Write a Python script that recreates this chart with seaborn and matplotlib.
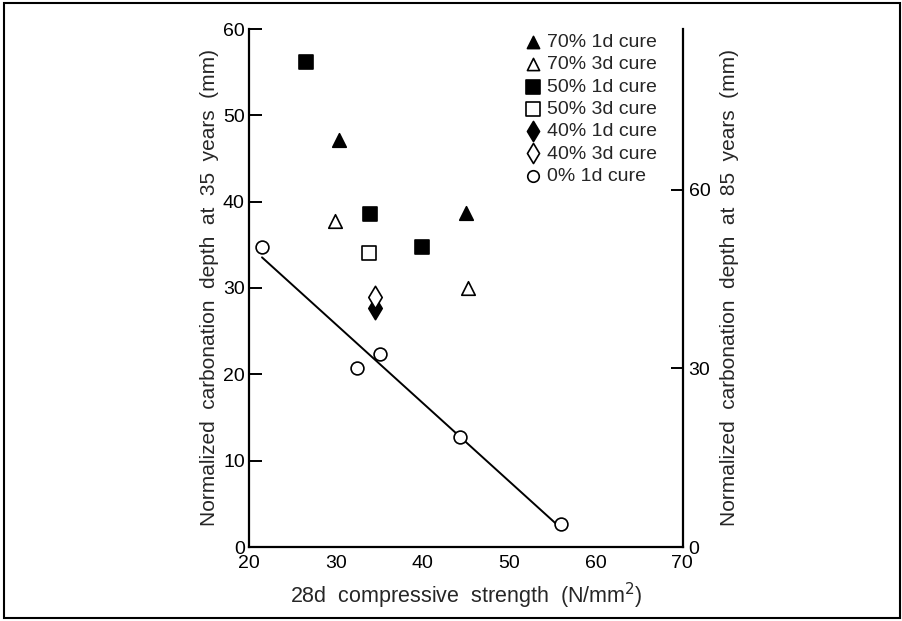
import matplotlib
matplotlib.use("Agg")
import matplotlib.pyplot as plt
from matplotlib.patches import Rectangle
import seaborn as sns
import pandas as pd

sns.set_style("white")
plt.rcParams["font.family"] = ["Liberation Sans", "DejaVu Sans"]

# 28-day compressive strength (N/mm2) and normalized carbonation depth at 35 years (mm)
s70_1d_x = [30.4, 45.1]
s70_1d_y = [47.2, 38.7]
s70_3d_x = [29.9, 45.3]
s70_3d_y = [37.8, 30.0]
s50_1d_x = [26.6, 34.0, 40.0]
s50_1d_y = [56.2, 38.6, 34.8]
s50_3d_x = [33.8]
s50_3d_y = [34.1]
s40_1d_x = [34.5]
s40_1d_y = [27.7]
s40_3d_x = [34.5]
s40_3d_y = [28.9]
s0_1d_x = [21.5, 32.5, 35.1, 44.3, 56.0]
s0_1d_y = [34.8, 20.7, 22.4, 12.7, 2.7]

series_labels = ["70% 1d cure", "70% 3d cure", "50% 1d cure", "50% 3d cure",
                 "40% 1d cure", "40% 3d cure", "0% 1d cure"]
x_ticks = [20, 30, 40, 50, 60, 70]
y_ticks_left = [0, 10, 20, 30, 40, 50, 60]
y_ticks_right = [0, 30, 60]

series_data = [
    (s70_1d_x, s70_1d_y, "^", "black", 95),
    (s70_3d_x, s70_3d_y, "^", "white", 95),
    (s50_1d_x, s50_1d_y, "s", "black", 110),
    (s50_3d_x, s50_3d_y, "s", "white", 110),
    (s40_1d_x, s40_1d_y, "d", "black", 130),
    (s40_3d_x, s40_3d_y, "d", "white", 130),
    (s0_1d_x, s0_1d_y, "o", "white", 85),
]

fig = plt.figure(figsize=(9.02, 6.21), dpi=100)
ax = fig.add_axes([249 / 902, 1 - 547 / 621, 434 / 902, (547 - 29) / 621])

# regression line through the plain-concrete points
df0 = pd.DataFrame({"x": s0_1d_x, "y": s0_1d_y})
sns.regplot(data=df0, x="x", y="y", ax=ax, ci=None, truncate=True,
            scatter=False, line_kws={"color": "black", "lw": 1.4, "zorder": 2})

for (xs, ys, m, fc, sz), lab in zip(series_data, series_labels):
    sns.scatterplot(x=xs, y=ys, ax=ax, marker=m, s=sz, facecolor=fc,
                    edgecolor="black", linewidth=1.2, label=lab, zorder=3)

ax.set_xlim(20, 70.1)
ax.set_ylim(0, 60)
ax.set_xticks(x_ticks)
ax.set_yticks(y_ticks_left)
ax.tick_params(direction="in", length=9, width=1.4, labelsize=14, pad=3,
               colors="black")
ax.tick_params(axis="x", pad=6)
for side in ["left", "bottom"]:
    ax.spines[side].set_linewidth(1.6)
    ax.spines[side].set_color("black")
ax.spines["top"].set_visible(False)
ax.spines["right"].set_visible(False)

ax.set_xlabel("28d  compressive  strength  (N/mm$^2$)", fontsize=15.5,
              labelpad=6)
ax.set_ylabel("Normalized  carbonation  depth  at  35  years  (mm)",
              fontsize=15, labelpad=3)

# secondary scale: carbonation depth at 85 years
ax2 = ax.twinx()
ax2.set_ylim(0, 87)
ax2.set_yticks(y_ticks_right)
ax2.tick_params(direction="in", length=9, width=1.4, labelsize=14, pad=4,
                colors="black")
ax2.spines["right"].set_linewidth(1.6)
ax2.spines["right"].set_color("black")
for side in ["top", "left", "bottom"]:
    ax2.spines[side].set_visible(False)
ax2.set_ylabel("Normalized  carbonation  depth  at  85  years  (mm)",
               fontsize=15, labelpad=7)

leg = ax.legend(loc="upper left", bbox_to_anchor=(0.61, 1.01), frameon=False,
                fontsize=14, handletextpad=0.2, labelspacing=0.24,
                handlelength=1.0, borderpad=0, markerscale=0.9)

fig.add_artist(Rectangle((4 / 902, 1 - 618 / 621), 896 / 902, 615 / 621,
                         transform=fig.transFigure, fill=False,
                         edgecolor="black", linewidth=1.5))

fig.savefig("out.png", dpi=100, facecolor="white")
